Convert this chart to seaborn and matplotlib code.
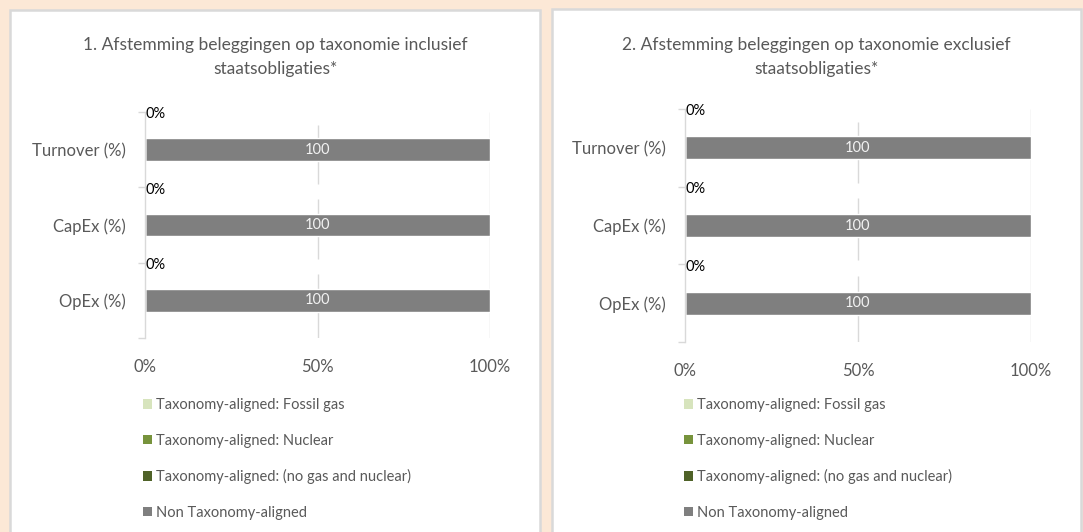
import numpy as np
import matplotlib
matplotlib.use("Agg")
import matplotlib.pyplot as plt
import matplotlib.patches as mpatches
import seaborn as sns

categories = ['Turnover (%)', 'CapEx (%)', 'OpEx (%)']
series_names = ['Taxonomy-aligned: Fossil gas', 'Taxonomy-aligned: Nuclear',
                'Taxonomy-aligned: (no gas and nuclear)', 'Non Taxonomy-aligned']
series_colors = ['#D7E4BD', '#77933C', '#4F6228', '#7F7F7F']

# chart 1: inclusief staatsobligaties
incl_fossil_gas = [0, 0, 0]
incl_nuclear = [0, 0, 0]
incl_aligned = [0, 0, 0]
incl_non_aligned = [100, 100, 100]
incl_labels = ['0%', '0%', '0%']

# chart 2: exclusief staatsobligaties
excl_fossil_gas = [0, 0, 0]
excl_nuclear = [0, 0, 0]
excl_aligned = [0, 0, 0]
excl_non_aligned = [100, 100, 100]
excl_labels = ['0%', '0%', '0%']

titles = ['1. Afstemming beleggingen op taxonomie inclusief\nstaatsobligaties*',
          '2. Afstemming beleggingen op taxonomie exclusief\nstaatsobligaties*']

TXT = '#595959'
LINE = '#D9D9D9'

sns.set_theme(style='white')
plt.rcParams['font.family'] = ['Lato', 'DejaVu Sans']

W, H = 1083, 532
fig = plt.figure(figsize=(W / 100, H / 100), dpi=100, facecolor='#FCE8D6')

# white panels with grey border
for x0, x1, top in [(10, 540, 9.5), (552, 1081, 8.5)]:
    fig.patches.append(mpatches.Rectangle(
        (x0 / W, -0.05), (x1 - x0) / W, (H - top) / H + 0.05,
        transform=fig.transFigure, facecolor='white', edgecolor=LINE,
        linewidth=1.8, zorder=-5))


def draw_chart(ax, series, zero_labels):
    cums = np.cumsum(np.array(series, dtype=float), axis=0)
    # widest stack first, so the narrower ones sit on top
    for k in reversed(range(len(series))):
        sns.barplot(x=cums[k], y=categories, color=series_colors[k], orient='h',
                    width=0.3, saturation=1, edgecolor='white', linewidth=1,
                    ax=ax)
    non_aligned = series[-1]
    ax.bar_label(ax.containers[0], labels=[f'{v:g}' if v > 0 else '' for v in non_aligned],
                 label_type='center', color='#F2F2F2', fontsize=10.5)
    for i, lab in enumerate(zero_labels):
        ax.text(0.2, i - 0.47, lab, ha='left', va='center', fontsize=10.5, color='black')

    ax.set_xlim(0, 100)
    ax.set_ylim(2.5, -0.5)
    ax.set_facecolor('none')
    # gridlines (the 50% one is broken around the label rows)
    ax.vlines(100, -0.5, 2.5, color=LINE, lw=1, zorder=0)
    for a, b in [(-0.33, 0.45), (0.65, 1.45), (1.65, 2.5)]:
        ax.vlines(50, a, b, color=LINE, lw=1, zorder=0)

    ax.set_xticks([0, 50, 100])
    ax.set_xticklabels(['0%', '50%', '100%'])
    ax.set_yticks([-0.5, 0.5, 1.5, 2.5], minor=True)
    ax.tick_params(axis='x', length=0, pad=15, labelsize=12, labelcolor=TXT)
    ax.tick_params(axis='y', which='major', length=0, pad=14, labelsize=12, labelcolor=TXT)
    ax.tick_params(axis='y', which='minor', length=5, width=1, color=LINE, direction='out', left=True)
    for s in ['top', 'right', 'bottom']:
        ax.spines[s].set_visible(False)
    ax.spines['left'].set_color(LINE)
    ax.spines['left'].set_linewidth(1)
    ax.set_xlabel('')
    ax.set_ylabel('')


ax1 = fig.add_axes([145 / W, (H - 338) / H, 345 / W, 226 / H])
ax2 = fig.add_axes([685 / W, (H - 342) / H, 346 / W, 233 / H])

draw_chart(ax1, [incl_fossil_gas, incl_nuclear, incl_aligned, incl_non_aligned], incl_labels)
draw_chart(ax2, [excl_fossil_gas, excl_nuclear, excl_aligned, excl_non_aligned], excl_labels)

for cx, t in [(275, titles[0]), (816, titles[1])]:
    fig.text(cx / W, (H - 57) / H, t, ha='center', va='center', fontsize=12.5,
             color=TXT, linespacing=1.55)

handles = [mpatches.Patch(facecolor=c, edgecolor='none') for c in series_colors]
for lx in [143, 684]:
    leg = fig.legend(handles, series_names, loc='upper left',
                     bbox_to_anchor=(lx / W, (H - 398) / H), frameon=False,
                     handlelength=0.62, handleheight=0.62, handletextpad=0.3,
                     labelspacing=1.48, borderpad=0, borderaxespad=0, fontsize=10.5)
    for t in leg.get_texts():
        t.set_color(TXT)

fig.savefig('out.png', dpi=100, facecolor=fig.get_facecolor())
